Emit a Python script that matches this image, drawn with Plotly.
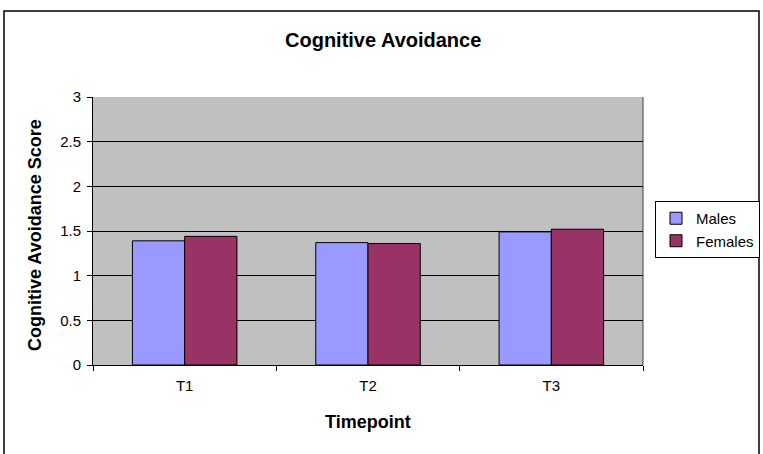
import plotly.graph_objects as go

categories = ["T1", "T2", "T3"]
males = [1.39, 1.37, 1.49]
females = [1.44, 1.36, 1.52]
y_ticks = [0, 0.5, 1, 1.5, 2, 2.5, 3]
y_tick_labels = ["0", "0.5", "1", "1.5", "2", "2.5", "3"]

fig = go.Figure()
fig.add_trace(go.Bar(x=categories, y=males, name="Males",
                     marker=dict(color="#9999FF", line=dict(color="black", width=1))))
fig.add_trace(go.Bar(x=categories, y=females, name="Females",
                     marker=dict(color="#993366", line=dict(color="black", width=1))))

W, H = 763, 454
L, R, T, B = 93, 643, 97, 365

def fx(x):
    return x / W

def fy(y):
    return 1 - y / H

FONT = "Liberation Sans, Arial, sans-serif"

fig.update_layout(
    width=W, height=H,
    margin=dict(l=0, r=0, t=0, b=0, pad=0),
    paper_bgcolor="white",
    plot_bgcolor="#C0C0C0",
    barmode="group",
    bargap=0.43,
    bargroupgap=0,
    font=dict(family=FONT, size=14, color="black"),
    showlegend=True,
    legend=dict(x=fx(655), y=fy(201), xanchor="left", yanchor="top",
                bordercolor="black", borderwidth=1, bgcolor="white",
                font=dict(size=15), tracegroupgap=0, itemwidth=30),
    xaxis=dict(
        domain=[fx(L), fx(R)], automargin=False,
        showline=True, linecolor="black", linewidth=1,
        ticks="outside", ticklen=5, tickcolor="black", tickson="boundaries",
        showgrid=False, tickfont=dict(size=15), ticklabelstandoff=7,
    ),
    yaxis=dict(
        domain=[fy(B), fy(T)], automargin=False,
        range=[0, 3], tickvals=y_ticks, ticktext=y_tick_labels,
        showline=True, linecolor="black", linewidth=1,
        ticks="outside", ticklen=5, tickcolor="black",
        showgrid=True, gridcolor="black", gridwidth=1, zeroline=False,
        tickfont=dict(size=15), ticklabelstandoff=3,
    ),
    annotations=[
        dict(text="<b>Cognitive Avoidance</b>", xref="paper", yref="paper",
             x=fx(383), y=fy(40), xanchor="center", yanchor="middle",
             showarrow=False, font=dict(size=20)),
        dict(text="<b>Timepoint</b>", xref="paper", yref="paper",
             x=fx(368), y=fy(422), xanchor="center", yanchor="middle",
             showarrow=False, font=dict(size=18)),
        dict(text="<b>Cognitive Avoidance Score</b>", xref="paper", yref="paper",
             x=fx(35), y=fy(235), xanchor="center", yanchor="middle",
             textangle=-90, showarrow=False, font=dict(size=18)),
    ],
)

# right border of plot area
fig.add_shape(type="line", xref="paper", yref="paper",
              x0=fx(R), x1=fx(R), y0=fy(B), y1=fy(T),
              line=dict(color="#404040", width=1))
# outer chart frame
fig.add_shape(type="rect", xref="paper", yref="paper",
              x0=fx(4), x1=fx(759), y0=fy(470), y1=fy(11),
              line=dict(color="black", width=1.5), fillcolor="rgba(0,0,0,0)", layer="below")

fig.write_html("out.html", config={"displayModeBar": False},
               post_script="document.body.style.margin='0px';document.body.style.padding='0px';")
